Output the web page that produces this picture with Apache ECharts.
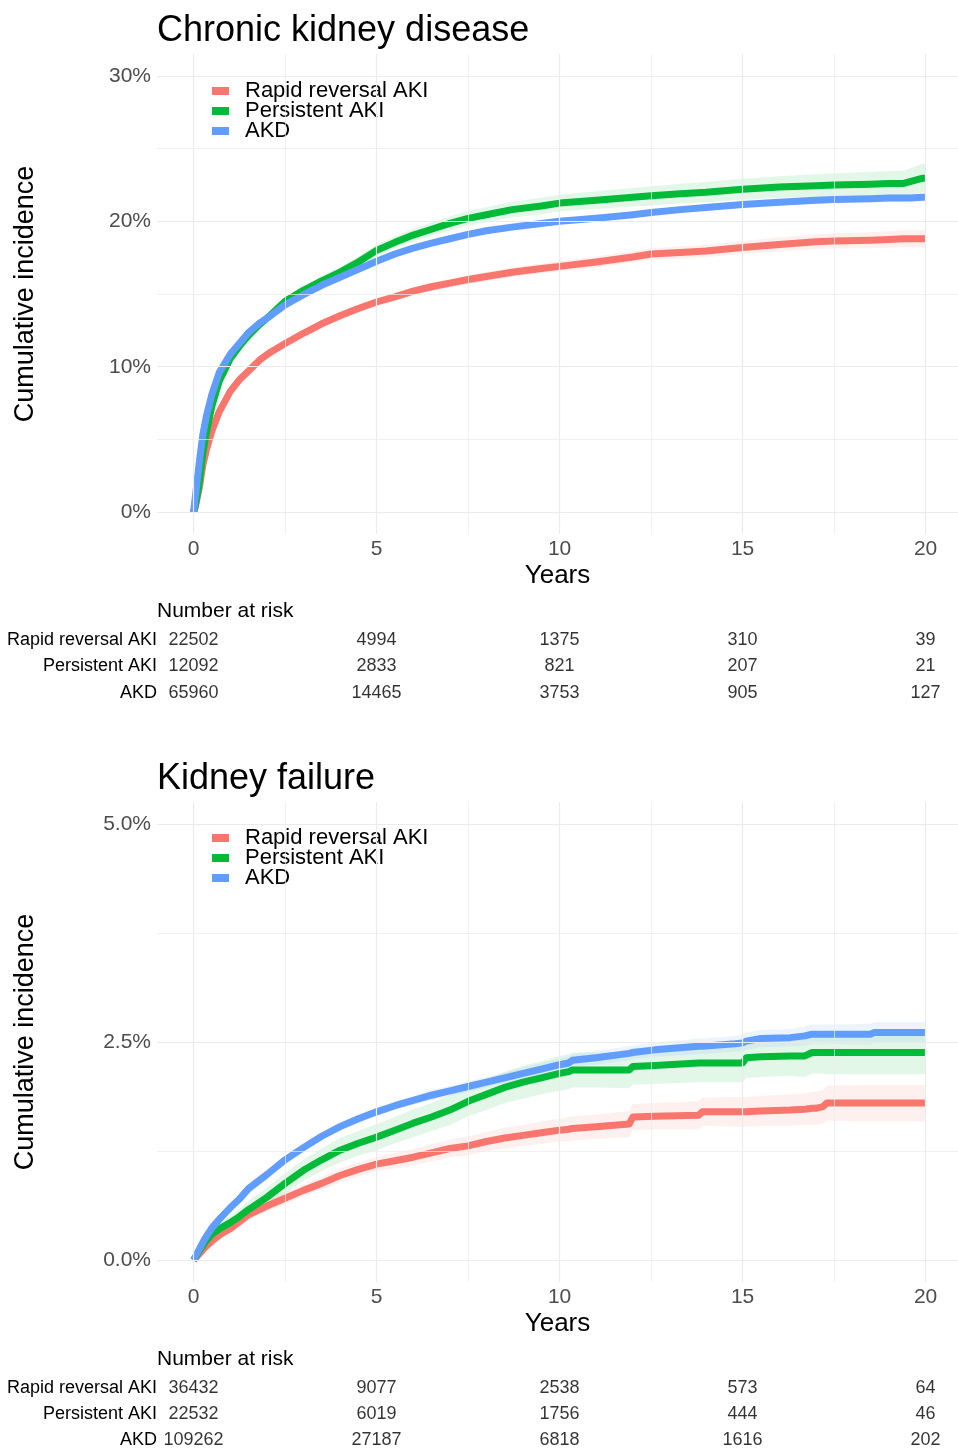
<!DOCTYPE html>
<html><head><meta charset="utf-8">
<script src="https://cdn.jsdelivr.net/npm/echarts@6/dist/echarts.min.js"></script>
<style>html,body{margin:0;padding:0;background:#fff}#c{width:958px;height:1448px}</style>
</head><body><div id="c"></div>
<script>
const FONT = '"Liberation Sans", Arial, sans-serif';
const SERIES_NAMES = ['Rapid reversal AKI', 'Persistent AKI', 'AKD'];
const COLORS = ['#F8766D', '#00BA38', '#619CFF'];
const X_TICKS = [0, 5, 10, 15, 20];
const X_MINOR = [2.5, 7.5, 12.5, 17.5];
const CKD_Y_TICKS = [0, 10, 20, 30];
const CKD_Y_MINOR = [5, 15, 25];
const KF_Y_TICKS = [0, 2.5, 5];
const KF_Y_MINOR = [1.25, 3.75];

// Chronic kidney disease (cumulative incidence, %)
const CKD_T = [0,0.05,0.15,0.25,0.35,0.5,0.7,1,1.25,1.5, 1.8,2.1,2.5,3,3.5,4,4.5,5,5.5,6, 6.5,7,7.5,8,8.7,9.5,10,11,12,12.5, 13.3,14,15,16,17,17.5,18.5,19,19.4,19.6, 19.9,20];
const CKD_RAPID = [0,0.4,1.6,3.2,4.3,5.6,6.9,8.3,9.1,9.7, 10.45,11.0,11.6,12.3,12.95,13.5,14.0,14.45,14.8,15.2, 15.5,15.75,16.0,16.2,16.5,16.75,16.9,17.2,17.55,17.75, 17.85,17.95,18.2,18.4,18.6,18.65,18.7,18.75,18.8,18.8, 18.8,18.8];
const CKD_PERS = [0,0.5,1.9,4.0,5.5,7.3,9.0,10.55,11.4,12.15, 12.9,13.55,14.5,15.25,15.9,16.5,17.2,18.0,18.55,19.05, 19.45,19.85,20.2,20.45,20.8,21.05,21.25,21.45,21.65,21.75, 21.9,22.0,22.2,22.35,22.45,22.5,22.55,22.6,22.6,22.75, 22.95,22.95];
const CKD_AKD = [0,1.1,3.3,5.3,6.6,8.1,9.6,10.85,11.6,12.35, 13.0,13.5,14.25,14.95,15.6,16.15,16.7,17.25,17.75,18.15, 18.5,18.8,19.1,19.35,19.6,19.85,20.0,20.2,20.45,20.6, 20.8,20.95,21.15,21.3,21.45,21.5,21.55,21.6,21.6,21.6, 21.65,21.65];
const CKD_RAPID_CI = [0,0.05,0.1,0.12,0.14,0.15,0.16,0.17,0.18,0.19, 0.2,0.2,0.21,0.22,0.23,0.24,0.25,0.26,0.27,0.28, 0.29,0.3,0.31,0.32,0.33,0.34,0.35,0.37,0.39,0.4, 0.42,0.43,0.45,0.48,0.5,0.52,0.55,0.57,0.58,0.59, 0.6,0.6];
const CKD_PERS_CI = [0,0.08,0.15,0.2,0.22,0.24,0.25,0.26,0.27,0.28, 0.29,0.3,0.31,0.32,0.34,0.36,0.38,0.4,0.42,0.44, 0.46,0.48,0.5,0.52,0.54,0.56,0.58,0.61,0.64,0.66, 0.68,0.7,0.72,0.75,0.78,0.8,0.84,0.86,0.88,0.92, 0.98,1.0];
const CKD_AKD_CI = [0,0.04,0.06,0.08,0.08,0.09,0.09,0.1,0.1,0.1, 0.1,0.11,0.11,0.11,0.12,0.12,0.12,0.13,0.13,0.13, 0.14,0.14,0.14,0.15,0.15,0.16,0.16,0.17,0.18,0.18, 0.19,0.19,0.2,0.21,0.22,0.22,0.23,0.24,0.24,0.24, 0.25,0.25];

// Kidney failure (cumulative incidence, %)
const KF_T = [0,0.15,0.3,0.5,0.75,1,1.25,1.5,2,2.5, 3,3.5,4,4.5,5,5.5,6,6.5,7,7.5, 8,8.5,9,9.5,10,10.25,10.35,11,11.9,12.0, 12.6,13.8,13.9,14.8,15.0,15.1,15.5,16.3,16.7,16.9, 17.0,17.2,17.3,18.5,18.6,20];
const KF_RAPID = [0,0.07,0.14,0.22,0.3,0.36,0.44,0.52,0.62,0.71, 0.80,0.88,0.97,1.04,1.10,1.14,1.18,1.23,1.28,1.31, 1.36,1.40,1.43,1.46,1.49,1.50,1.51,1.53,1.56,1.64, 1.65,1.66,1.70,1.70,1.70,1.70,1.71,1.72,1.73,1.74, 1.74,1.76,1.80,1.80,1.80,1.80];
const KF_PERS = [0,0.1,0.2,0.3,0.37,0.43,0.5,0.58,0.72,0.88, 1.03,1.15,1.26,1.34,1.41,1.49,1.57,1.64,1.72,1.82, 1.90,1.98,2.04,2.09,2.14,2.16,2.18,2.18,2.18,2.22, 2.23,2.26,2.26,2.26,2.26,2.32,2.33,2.34,2.34,2.38, 2.38,2.38,2.38,2.38,2.38,2.38];
const KF_AKD = [0,0.12,0.24,0.37,0.49,0.6,0.7,0.82,0.98,1.15, 1.29,1.42,1.53,1.62,1.70,1.77,1.83,1.89,1.94,1.99, 2.04,2.09,2.14,2.19,2.24,2.26,2.29,2.32,2.37,2.38, 2.41,2.45,2.45,2.48,2.49,2.51,2.54,2.55,2.57,2.59, 2.59,2.59,2.59,2.59,2.61,2.61];
const KF_RAPID_CI = [0,0.02,0.03,0.04,0.05,0.05,0.06,0.06,0.06,0.07, 0.07,0.07,0.08,0.08,0.08,0.09,0.09,0.1,0.1,0.11, 0.11,0.12,0.12,0.13,0.13,0.14,0.14,0.14,0.15,0.15, 0.15,0.16,0.16,0.17,0.17,0.17,0.17,0.18,0.18,0.19, 0.19,0.19,0.2,0.21,0.21,0.21];
const KF_PERS_CI = [0,0.03,0.05,0.06,0.07,0.08,0.09,0.1,0.11,0.12, 0.12,0.13,0.14,0.14,0.15,0.15,0.16,0.16,0.17,0.17, 0.18,0.18,0.19,0.19,0.2,0.2,0.2,0.2,0.21,0.21, 0.21,0.22,0.22,0.22,0.22,0.23,0.23,0.23,0.24,0.24, 0.24,0.24,0.25,0.25,0.25,0.25];
const KF_AKD_CI = [0,0.01,0.02,0.02,0.03,0.03,0.03,0.03,0.04,0.04, 0.04,0.04,0.05,0.05,0.05,0.05,0.05,0.06,0.06,0.06, 0.06,0.06,0.07,0.07,0.07,0.07,0.07,0.08,0.08,0.08, 0.08,0.09,0.09,0.09,0.1,0.1,0.1,0.1,0.11,0.11, 0.11,0.11,0.11,0.12,0.12,0.12];

// Number at risk
const RISK_YEARS = [0, 5, 10, 15, 20];
const CKD_RISK_RAPID = [22502, 4994, 1375, 310, 39];
const CKD_RISK_PERS = [12092, 2833, 821, 207, 21];
const CKD_RISK_AKD = [65960, 14465, 3753, 905, 127];
const KF_RISK_RAPID = [36432, 9077, 2538, 573, 64];
const KF_RISK_PERS = [22532, 6019, 1756, 444, 46];
const KF_RISK_AKD = [109262, 27187, 6818, 1616, 202];

const X_MIN = -1, X_MAX = 20.885;

function rgba(hex, a) {
  const n = parseInt(hex.slice(1), 16);
  return 'rgba(' + ((n >> 16) & 255) + ',' + ((n >> 8) & 255) + ',' + (n & 255) + ',' + a + ')';
}

function bandSeries(t, v, ci, color, gi) {
  const data = t.map((x, i) => [x, v[i] - ci[i], v[i] + ci[i]]);
  return {
    type: 'custom', xAxisIndex: gi, yAxisIndex: gi, silent: true, z: 1,
    data: data, encode: { x: 0, y: [1, 2] },
    renderItem: function (params, api) {
      if (params.dataIndex !== 0) return null;
      const up = data.map(d => api.coord([d[0], d[2]]));
      const lo = data.map(d => api.coord([d[0], d[1]])).reverse();
      return { type: 'polygon', shape: { points: up.concat(lo) }, style: { fill: rgba(color, 0.11) } };
    }
  };
}

function lineSeries(name, t, v, color, gi) {
  return {
    type: 'line', name: name, xAxisIndex: gi, yAxisIndex: gi,
    data: t.map((x, i) => [x, v[i]]),
    showSymbol: false, symbol: 'none', silent: true, z: 3,
    lineStyle: { width: 7, color: color, join: 'round', cap: 'butt' },
    itemStyle: { color: color }
  };
}

function gridLines(gi, yMaj, yMin) {
  const d = [];
  X_TICKS.forEach(v => d.push({ xAxis: v, lineStyle: { width: 1.2 } }));
  X_MINOR.forEach(v => d.push({ xAxis: v, lineStyle: { width: 0.7 } }));
  yMaj.forEach(v => d.push({ yAxis: v, lineStyle: { width: 1.2 } }));
  yMin.forEach(v => d.push({ yAxis: v, lineStyle: { width: 0.7 } }));
  return {
    type: 'line', xAxisIndex: gi, yAxisIndex: gi, data: [], silent: true, z: 0,
    markLine: {
      silent: true, symbol: ['none', 'none'], label: { show: false }, animation: false,
      lineStyle: { color: '#EBEBEB', type: 'solid' }, emphasis: { disabled: true },
      data: d
    }
  };
}

function riskSeries(gi, rows) {
  const data = [];
  rows.forEach((arr, r) => arr.forEach((v, i) => data.push([RISK_YEARS[i], r, v])));
  return {
    type: 'scatter', xAxisIndex: gi, yAxisIndex: gi, silent: true, symbolSize: 1,
    itemStyle: { color: 'rgba(0,0,0,0)' },
    data: data,
    label: { show: true, position: 'inside', formatter: p => String(p.value[2]), fontSize: 18, color: '#000', fontFamily: FONT }
  };
}

function plotX(gi) {
  return {
    gridIndex: gi, type: 'value', min: X_MIN, max: X_MAX,
    axisLine: { show: false }, axisTick: { show: false }, splitLine: { show: false },
    axisLabel: { customValues: X_TICKS, fontSize: 21, color: '#4D4D4D', margin: 5, fontFamily: FONT },
    name: 'Years', nameLocation: 'middle', nameGap: 29,
    nameTextStyle: { fontSize: 26, color: '#000', fontFamily: FONT }
  };
}
function plotY(gi, min, max, ticks, fmt) {
  return {
    gridIndex: gi, type: 'value', min: min, max: max,
    axisLine: { show: false }, axisTick: { show: false }, splitLine: { show: false },
    axisLabel: { customValues: ticks, formatter: fmt, fontSize: 21, color: '#4D4D4D', margin: 6, fontFamily: FONT },
    name: 'Cumulative incidence', nameLocation: 'middle', nameRotate: 90, nameGap: 118,
    nameTextStyle: { fontSize: 27, color: '#000', fontFamily: FONT }
  };
}
function riskX(gi) {
  return { gridIndex: gi, type: 'value', min: X_MIN, max: X_MAX, show: false };
}
function riskY(gi) {
  return {
    gridIndex: gi, type: 'category', data: SERIES_NAMES, inverse: true,
    axisLine: { show: false }, axisTick: { show: false }, splitLine: { show: false },
    axisLabel: { fontSize: 18, color: '#000', margin: 0, fontFamily: FONT }
  };
}
function legend(top) {
  return {
    orient: 'vertical', left: 212, top: top, padding: 0, itemGap: -2,
    itemWidth: 17, itemHeight: 8, icon: 'rect', selectedMode: false,
    data: SERIES_NAMES,
    textStyle: { fontSize: 22, color: '#000', lineHeight: 20, padding: [0, 0, 0, 11], fontFamily: FONT }
  };
}

const chart = echarts.init(document.getElementById('c'), null, { renderer: 'canvas' });
const titleStyle = { fontSize: 36, fontWeight: 'normal', color: '#000', fontFamily: FONT };
const subStyle = { fontSize: 21, fontWeight: 'normal', color: '#000', fontFamily: FONT };
chart.setOption({
  animation: false,
  backgroundColor: '#fff',
  title: [
    { text: 'Chronic kidney disease', left: 157, top: 13, padding: 0, textStyle: titleStyle },
    { text: 'Number at risk', left: 157, top: 601, padding: 0, textStyle: subStyle },
    { text: 'Kidney failure', left: 157, top: 761, padding: 0, textStyle: titleStyle },
    { text: 'Number at risk', left: 157, top: 1349, padding: 0, textStyle: subStyle }
  ],
  legend: [legend(80), legend(827)],
  grid: [
    { left: 157, top: 54, width: 801, height: 480, outerBoundsMode: 'none' },
    { left: 157, top: 802, width: 801, height: 480, outerBoundsMode: 'none' },
    { left: 157, top: 626.75, width: 801, height: 79.5, outerBoundsMode: 'none' },
    { left: 157, top: 1375, width: 801, height: 78, outerBoundsMode: 'none' }
  ],
  xAxis: [plotX(0), plotX(1), riskX(2), riskX(3)],
  yAxis: [
    plotY(0, -1.5, 31.5, CKD_Y_TICKS, v => v + '%'),
    plotY(1, -0.25, 5.25, KF_Y_TICKS, v => v.toFixed(1) + '%'),
    riskY(2), riskY(3)
  ],
  series: [
    gridLines(0, CKD_Y_TICKS, CKD_Y_MINOR),
    gridLines(1, KF_Y_TICKS, KF_Y_MINOR),
    bandSeries(CKD_T, CKD_RAPID, CKD_RAPID_CI, COLORS[0], 0),
    bandSeries(CKD_T, CKD_PERS, CKD_PERS_CI, COLORS[1], 0),
    bandSeries(CKD_T, CKD_AKD, CKD_AKD_CI, COLORS[2], 0),
    bandSeries(KF_T, KF_RAPID, KF_RAPID_CI, COLORS[0], 1),
    bandSeries(KF_T, KF_PERS, KF_PERS_CI, COLORS[1], 1),
    bandSeries(KF_T, KF_AKD, KF_AKD_CI, COLORS[2], 1),
    lineSeries(SERIES_NAMES[0], CKD_T, CKD_RAPID, COLORS[0], 0),
    lineSeries(SERIES_NAMES[1], CKD_T, CKD_PERS, COLORS[1], 0),
    lineSeries(SERIES_NAMES[2], CKD_T, CKD_AKD, COLORS[2], 0),
    lineSeries(SERIES_NAMES[0], KF_T, KF_RAPID, COLORS[0], 1),
    lineSeries(SERIES_NAMES[1], KF_T, KF_PERS, COLORS[1], 1),
    lineSeries(SERIES_NAMES[2], KF_T, KF_AKD, COLORS[2], 1),
    riskSeries(2, [CKD_RISK_RAPID, CKD_RISK_PERS, CKD_RISK_AKD]),
    riskSeries(3, [KF_RISK_RAPID, KF_RISK_PERS, KF_RISK_AKD])
  ]
});
</script>
</body></html>
